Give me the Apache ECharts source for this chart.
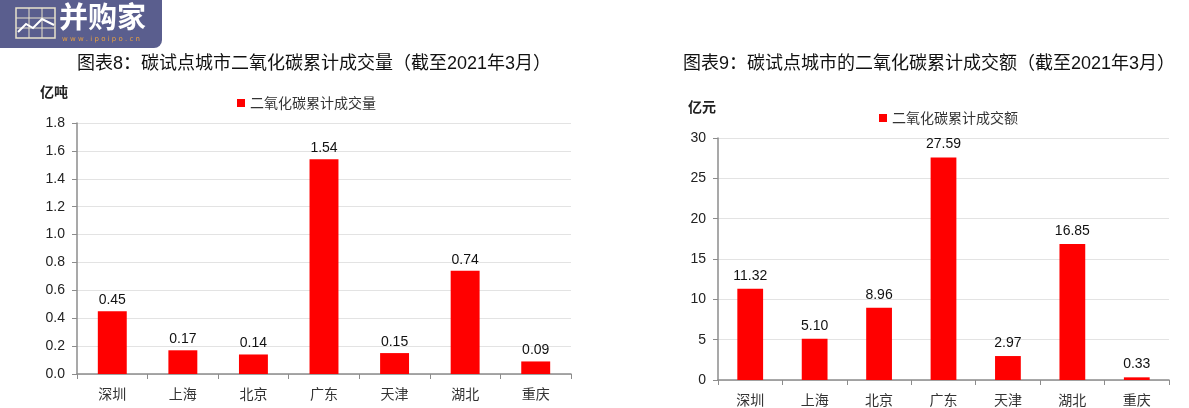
<!DOCTYPE html>
<html><head><meta charset="utf-8">
<script src="https://cdn.jsdelivr.net/npm/echarts@6/dist/echarts.min.js"></script>
<style>html,body{margin:0;padding:0;background:#fff}#c{width:1189px;height:408px}</style>
</head><body><div id="c"></div>
<script>
const categories = ['深圳','上海','北京','广东','天津','湖北','重庆'];
const volumeValues = [0.45, 0.17, 0.14, 1.54, 0.15, 0.74, 0.09];
const amountValues = [11.32, 5.10, 8.96, 27.59, 2.97, 16.85, 0.33];
const volumeName = '二氧化碳累计成交量';
const amountName = '二氧化碳累计成交额';
const title1 = '图表8：碳试点城市二氧化碳累计成交量（截至2021年3月）';
const title2 = '图表9：碳试点城市的二氧化碳累计成交额（截至2021年3月）';

const FONT = '"Liberation Sans", Arial, "Noto Sans CJK SC", sans-serif';
const chart = echarts.init(document.getElementById('c'));
const axisX = (gi) => ({
  type: 'category', gridIndex: gi, data: categories,
  axisLine: {lineStyle: {color: '#8c8c8c', width: 1.5}},
  axisTick: {show: true, alignWithLabel: false, length: 5, lineStyle: {color: '#8c8c8c'}},
  axisLabel: {color: '#333', fontSize: 14, margin: 13, fontFamily: '"Noto Sans CJK SC", serif'}
});
const axisY = (gi, max, interval, fmt) => ({
  type: 'value', gridIndex: gi, min: 0, max: max, interval: interval,
  axisLine: {show: true, lineStyle: {color: '#8c8c8c', width: 1.5}},
  axisTick: {show: true, length: 5, lineStyle: {color: '#8c8c8c'}},
  splitLine: {lineStyle: {color: '#e3e3e3'}},
  axisLabel: {color: '#222', fontSize: 14, fontFamily: FONT, margin: 12, formatter: fmt}
});
chart.setOption({
  animation: false,
  backgroundColor: '#ffffff',
  textStyle: {fontFamily: FONT},
  title: [
    {text: title1, left: 72, top: 50, textStyle: {fontSize: 18, fontWeight: 'normal', color: '#111', fontFamily: FONT}},
    {text: title2, left: 678, top: 50, textStyle: {fontSize: 18, fontWeight: 'normal', color: '#111', fontFamily: FONT}}
  ],
  legend: [
    {data: [volumeName], left: 232, top: 91, itemWidth: 8, itemHeight: 8, itemGap: 5, icon: 'rect',
     textStyle: {fontSize: 14, color: '#333', fontFamily: '"Noto Sans CJK SC", serif'}},
    {data: [amountName], left: 874, top: 106, itemWidth: 8, itemHeight: 8, itemGap: 5, icon: 'rect',
     textStyle: {fontSize: 14, color: '#333', fontFamily: '"Noto Sans CJK SC", serif'}}
  ],
  grid: [
    {left: 77, right: 618, top: 123, bottom: 34},
    {left: 718, right: 20, top: 138, bottom: 28}
  ],
  xAxis: [axisX(0), axisX(1)],
  yAxis: [
    axisY(0, 1.8, 0.2, v => v.toFixed(1)),
    axisY(1, 30, 5, v => String(v))
  ],
  series: [
    {name: volumeName, type: 'bar', xAxisIndex: 0, yAxisIndex: 0, data: volumeValues, barWidth: '41%',
     itemStyle: {color: '#ff0000'},
     label: {show: true, position: 'top', fontSize: 14, color: '#111', fontFamily: FONT, distance: 4, formatter: p => p.value.toFixed(2)}},
    {name: amountName, type: 'bar', xAxisIndex: 1, yAxisIndex: 1, data: amountValues, barWidth: '40%',
     itemStyle: {color: '#ff0000'},
     label: {show: true, position: 'top', fontSize: 14, color: '#111', fontFamily: FONT, distance: 6, formatter: p => p.value.toFixed(2)}}
  ],
  graphic: [
    {type: 'text', left: 40, top: 85, style: {text: '亿吨', font: 'bold 14px "Noto Sans CJK SC"', fill: '#222'}},
    {type: 'text', left: 688, top: 100, style: {text: '亿元', font: 'bold 14px "Noto Sans CJK SC"', fill: '#222'}},
    {type: 'rect', shape: {x: -10, y: -10, width: 172, height: 58, r: 8}, style: {fill: '#5a5e8e'}},
    {type: 'rect', shape: {x: 16, y: 8, width: 39, height: 30}, style: {fill: 'none', stroke: '#e8e2cc', lineWidth: 1.5}},
    {type: 'line', shape: {x1: 29, y1: 8, x2: 29, y2: 38}, style: {stroke: '#e8e2cc', lineWidth: 1}},
    {type: 'line', shape: {x1: 42, y1: 8, x2: 42, y2: 38}, style: {stroke: '#e8e2cc', lineWidth: 1}},
    {type: 'line', shape: {x1: 16, y1: 18, x2: 55, y2: 18}, style: {stroke: '#e8e2cc', lineWidth: 1}},
    {type: 'line', shape: {x1: 16, y1: 28, x2: 55, y2: 28}, style: {stroke: '#e8e2cc', lineWidth: 1}},
    {type: 'polyline', shape: {points: [[18, 32], [26, 24], [33, 28], [42, 19], [54, 25]]}, style: {stroke: '#ffffff', lineWidth: 2, fill: 'none'}},
    {type: 'text', left: 59, top: 2, style: {text: '并购家', font: 'bold 29px "Noto Sans CJK SC"', fill: '#ffffff'}},
    {type: 'text', left: 62, top: 36, style: {text: 'w w w . i p o i p o . c n', font: '7px "DejaVu Sans"', fill: '#e8a040'}}
  ]
});
</script></body></html>
